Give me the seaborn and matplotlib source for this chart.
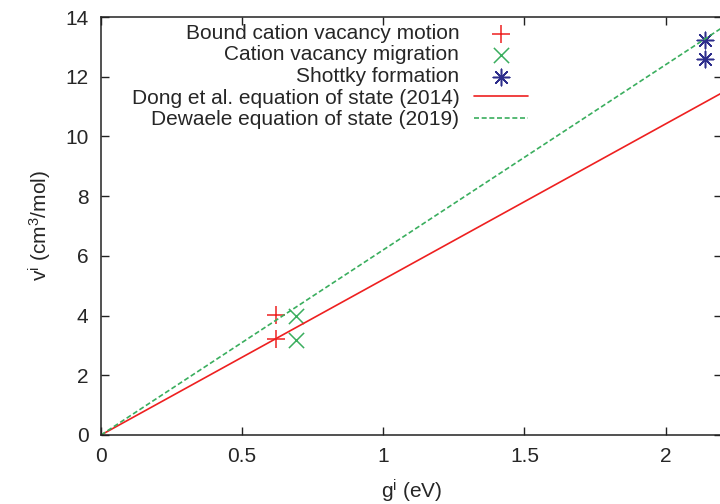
import matplotlib
matplotlib.use("Agg")
import matplotlib.pyplot as plt
import seaborn as sns
import pandas as pd

# Activation free energies g^i (eV) and activation volumes v^i (cm^3/mol)
bound_g = [0.62, 0.62]
bound_v = [4.02, 3.20]
migration_g = [0.69, 0.69]
migration_v = [4.00, 3.18]
shottky_g = [2.14, 2.14]
shottky_v = [13.22, 12.60]

# Equation-of-state predictions
eos_g = [0.0, 2.2]
dong_v = [0.0, 11.46]
dewaele_v = [0.0, 13.64]

x_ticks = [0, 0.5, 1, 1.5, 2]
x_tick_labels = ["0", "0.5", "1", "1.5", "2"]
y_ticks = [0, 2, 4, 6, 8, 10, 12, 14]

FS = 15

sns.set_style("ticks")
plt.rcParams["font.family"] = ["Liberation Sans", "DejaVu Sans"]
plt.rcParams["mathtext.default"] = "regular"
plt.rcParams["font.size"] = FS

RED = "#ee2020"
GREEN = "#3aae5e"
BLUE = "#2e2e8c"

fig = plt.figure(figsize=(7.2, 5.04), dpi=100)
ax = fig.add_axes([101 / 720, 1 - 435 / 504, (722 - 101) / 720, (435 - 17) / 504])

df_pts = pd.concat([
    pd.DataFrame({"g": bound_g, "v": bound_v, "kind": "Bound cation vacancy motion"}),
    pd.DataFrame({"g": migration_g, "v": migration_v, "kind": "Cation vacancy migration"}),
    pd.DataFrame({"g": shottky_g, "v": shottky_v, "kind": "Shottky formation"}),
])

sns.lineplot(x=eos_g, y=dong_v, ax=ax, color=RED, lw=1.2,
             label="Dong et al. equation of state (2014)")
sns.lineplot(x=eos_g, y=dewaele_v, ax=ax, color=GREEN, lw=1.2,
             linestyle=(0, (3, 1.6)), label="Dewaele equation of state (2019)")

markers = {"Bound cation vacancy motion": "+",
           "Cation vacancy migration": "x",
           "Shottky formation": (8, 2, 0)}
colors = {"Bound cation vacancy motion": RED,
          "Cation vacancy migration": GREEN,
          "Shottky formation": BLUE}
sizes = {"Bound cation vacancy motion": 150,
         "Cation vacancy migration": 120,
         "Shottky formation": 140}
for kind, sub in df_pts.groupby("kind", sort=False):
    sns.scatterplot(data=sub, x="g", y="v", ax=ax, marker=markers[kind],
                    color=colors[kind], s=sizes[kind], linewidth=1.1, label=kind)

ax.set_xlim(0, 2.2)
ax.set_ylim(0, 14)
ax.set_xticks(x_ticks)
ax.set_xticklabels(x_tick_labels)
ax.set_yticks(y_ticks)
ax.tick_params(direction="in", top=True, right=True, length=5.5, width=1,
               color="#222222", labelsize=FS, pad=9)
for sp in ax.spines.values():
    sp.set_linewidth(1.1)
    sp.set_color("#222222")
    sp.set_visible(True)

ax.set_xlabel("g$^{i}$ (eV)", fontsize=FS, labelpad=8)
ax.set_ylabel("v$^{i}$ (cm$^{3}$/mol)", fontsize=FS, labelpad=8)

handles, labels = ax.get_legend_handles_labels()
order = ["Bound cation vacancy motion", "Cation vacancy migration", "Shottky formation",
         "Dong et al. equation of state (2014)", "Dewaele equation of state (2019)"]
hmap = dict(zip(labels, handles))
leg = ax.legend([hmap[l] for l in order], order, loc="upper right",
                bbox_to_anchor=(528 / 720, 1 - 24 / 504), bbox_transform=fig.transFigure,
                frameon=False, markerfirst=False, handlelength=2.6, handletextpad=0.7,
                labelspacing=0.12, borderpad=0, borderaxespad=0, fontsize=FS)

fig.savefig("out.png", dpi=100)
